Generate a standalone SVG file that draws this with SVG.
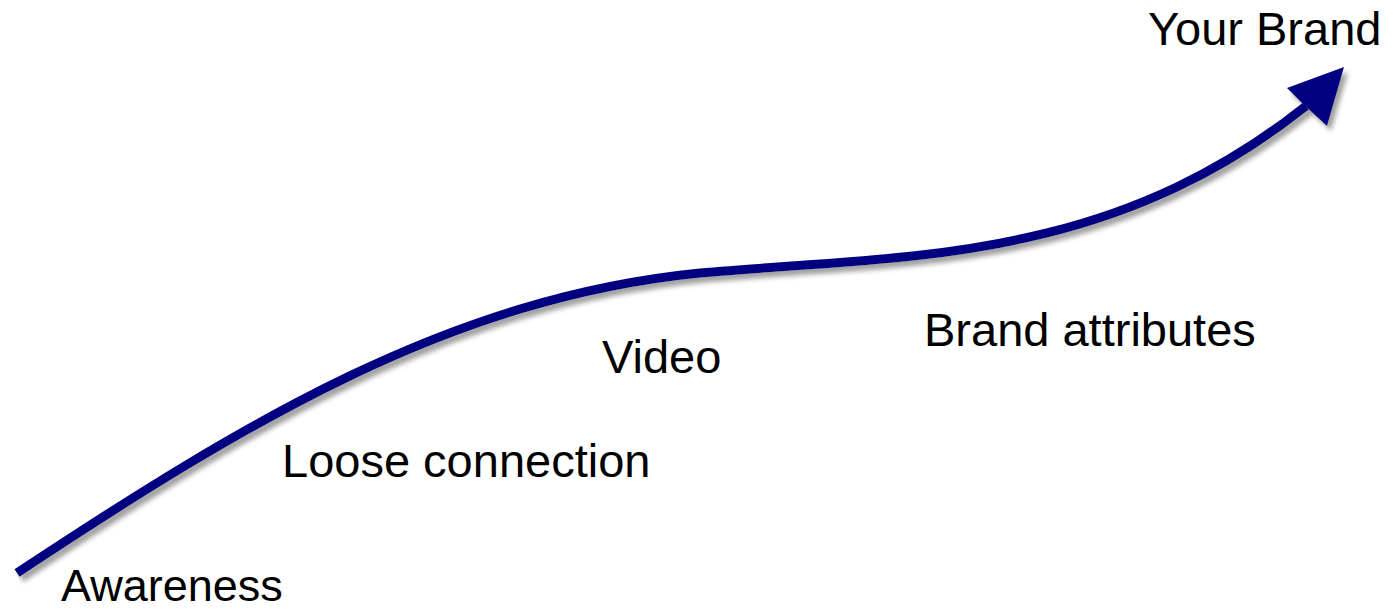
<svg xmlns="http://www.w3.org/2000/svg" width="1398" height="609" viewBox="0 0 1398 609">
  <style>
    .lbl { font-family: "Liberation Sans", Arial, sans-serif; font-size: 47px; fill: #000000; }
    .curve { fill: none; stroke: #000080; stroke-width: 9; stroke-linecap: butt; }
    .head { fill: #000080; }
  </style>
  <defs>
    <filter id="shadow" x="-10%" y="-10%" width="120%" height="130%">
      <feDropShadow dx="4" dy="5" stdDeviation="2.5" flood-color="#808080" flood-opacity="0.75"/>
    </filter>
  </defs>
  <rect width="1398" height="609" fill="#ffffff"/>
  <g id="connectors" filter="url(#shadow)">
    <path class="curve" d="M 17 573 C 247 421, 450 298, 700 273 C 900 255, 1105 266, 1306 106"/>
    <polygon class="head" points="1344,67 1287,88 1303,104 1327,126"/>
  </g>
  <g id="awareness"><text class="lbl" x="61" y="601" style="font-size:45px">Awareness</text></g>
  <g id="loose-connection"><text class="lbl" x="282" y="477">Loose connection</text></g>
  <g id="video"><text class="lbl" x="602" y="373">Video</text></g>
  <g id="brand-attributes"><text class="lbl" x="924" y="346">Brand attributes</text></g>
  <g id="your-brand"><text class="lbl" x="1148" y="45">Your Brand</text></g>
</svg>
